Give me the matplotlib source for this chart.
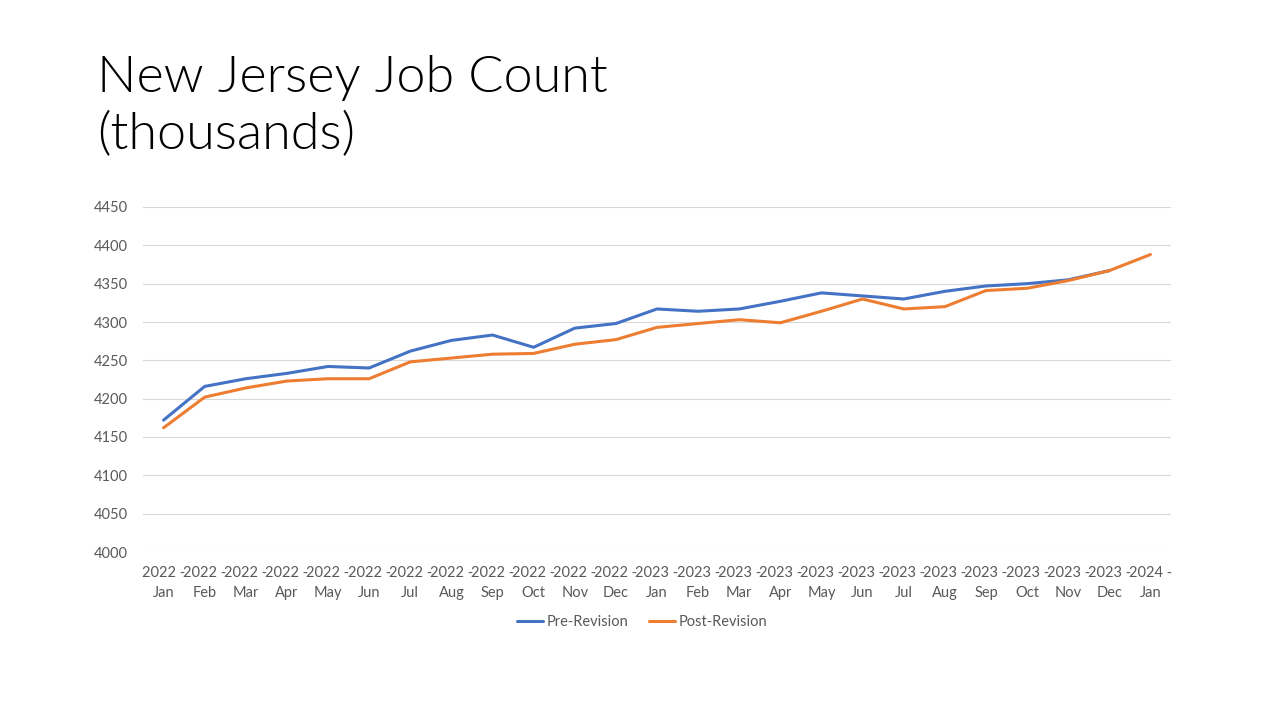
import matplotlib
matplotlib.use("Agg")
import matplotlib.pyplot as plt
import numpy as np

years = ["2022"] * 12 + ["2023"] * 12 + ["2024"]
months = ["Jan", "Feb", "Mar", "Apr", "May", "Jun", "Jul", "Aug", "Sep", "Oct", "Nov", "Dec"] * 2 + ["Jan"]
tick_labels = [f"{y} -\n{m}" for y, m in zip(years, months)]

pre_revision = [4172, 4216, 4226, 4233, 4242, 4240, 4262, 4276, 4283, 4267, 4292, 4298,
                4317, 4314, 4317, 4327, 4338, 4334, 4330, 4340, 4347, 4350, 4355, 4367, np.nan]
post_revision = [4162, 4202, 4214, 4223, 4226, 4226, 4248, 4253, 4258, 4259, 4271, 4277,
                 4293, 4298, 4303, 4299, 4314, 4330, 4317, 4320, 4341, 4344, 4354, 4367, 4388]
y_ticks = [4000, 4050, 4100, 4150, 4200, 4250, 4300, 4350, 4400, 4450]

plt.rcParams['font.family'] = ['Lato', 'DejaVu Sans']

fig = plt.figure(figsize=(12.73, 7.16), dpi=100)
ax = fig.add_axes([143/1273, 1 - 552/716, (1171-143)/1273, (552-207)/716])

x = np.arange(len(tick_labels))
ax.plot(x, pre_revision, color="#4472C4", lw=2.2, label="Pre-Revision", solid_capstyle="round")
ax.plot(x, post_revision, color="#ED7D31", lw=2.2, label="Post-Revision", solid_capstyle="round")

ax.set_xlim(-0.5, len(x) - 0.5)
ax.set_ylim(4000, 4450)
ax.set_yticks(y_ticks)
ax.set_xticks(x)
ax.set_xticklabels(tick_labels, linespacing=1.6)
ax.grid(axis="y", color="#D9D9D9", lw=0.8)
ax.set_axisbelow(True)
for s in ["top", "right", "left", "bottom"]:
    ax.spines[s].set_visible(False)
ax.tick_params(axis="both", length=0, colors="#595959", labelsize=10.5)
ax.tick_params(axis="x", pad=10)
ax.tick_params(axis="y", pad=11)

fig.legend(loc="center", bbox_to_anchor=(642/1273, 1 - 622/716), ncol=2, frameon=False,
           fontsize=10.5, labelcolor="#595959", handlelength=1.8, handletextpad=0.25,
           columnspacing=1.4)

fig.text(97/1273, 1 - 55/716, "New Jersey Job Count\n(thousands)", fontsize=37.5,
         fontweight=300, va="top", ha="left", color="black", linespacing=1.31)

fig.savefig("out.png", dpi=100)
